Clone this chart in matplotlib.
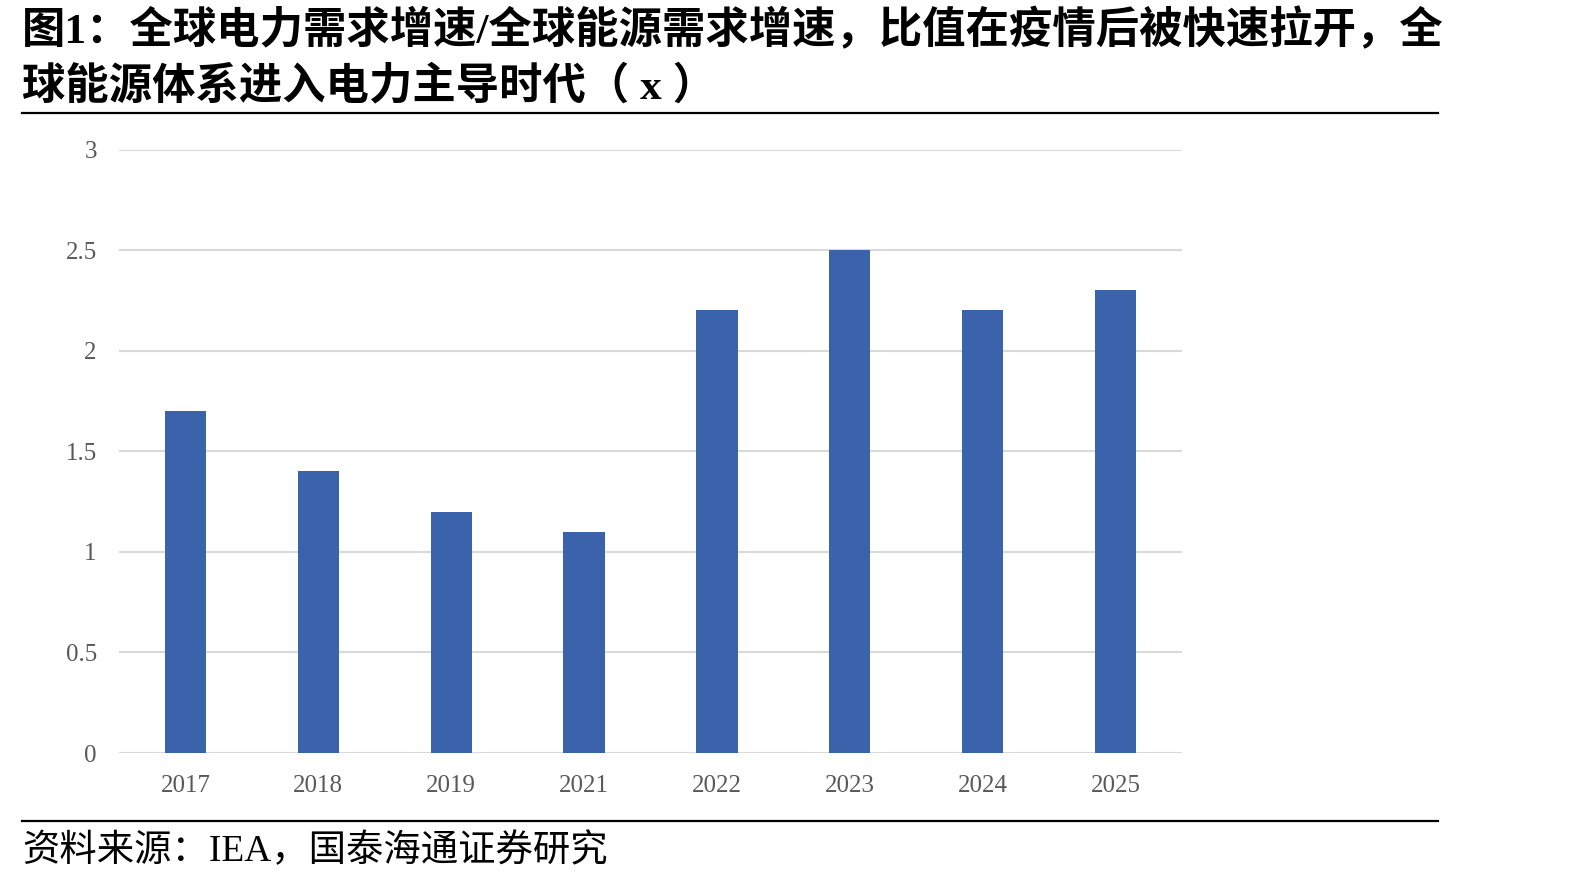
import matplotlib
matplotlib.use("Agg")
import matplotlib.pyplot as plt
from matplotlib.lines import Line2D

# data
years = ["2017", "2018", "2019", "2021", "2022", "2023", "2024", "2025"]
ratio = [1.7, 1.4, 1.2, 1.1, 2.2, 2.5, 2.2, 2.3]
yticks = [0, 0.5, 1, 1.5, 2, 2.5, 3]
ytick_labels = ["0", "0.5", "1", "1.5", "2", "2.5", "3"]

title_1 = "图1：全球电力需求增速/全球能源需求增速，比值在疫情后被快速拉开，全"
title_2 = "球能源体系进入电力主导时代（ x ）"
source = "资料来源：IEA，国泰海通证券研究"

fonts = ["Liberation Serif", "Noto Sans CJK SC"]
bar_color = "#3B63AC"
grid_color = "#D9D9D9"
label_color = "#595959"

fig = plt.figure(figsize=(15.94, 8.80), dpi=100)
ax = fig.add_axes([0.0747, 0.1443, 0.6668, 0.6858])

x = range(len(years))
ax.bar(x, ratio, width=0.31, color=bar_color, zorder=3)

ax.set_xlim(-0.5, len(years) - 0.5)
ax.set_ylim(0, 3)
ax.set_yticks(yticks)
ax.set_yticklabels(ytick_labels, family=fonts, fontsize=18, color=label_color)
ax.set_xticks(list(x))
ax.set_xticklabels(years, family=fonts, fontsize=18, color=label_color)
ax.tick_params(axis="y", length=0, pad=16)
ax.tick_params(axis="x", length=0, pad=16)
ax.yaxis.grid(True, color=grid_color, linewidth=1.5, zorder=0)
ax.set_axisbelow(True)
for s in ax.spines.values():
    s.set_visible(False)
ax.axhline(0, color=grid_color, linewidth=2, zorder=2)

# title, rules and source
fig.text(0.0138, 0.951, title_1, family=fonts, fontsize=31.2, fontweight="bold",
         va="baseline", ha="left")
fig.text(0.0138, 0.888, title_2, family=fonts, fontsize=31.2, fontweight="bold",
         va="baseline", ha="left")
fig.add_artist(Line2D([0.0138, 0.902], [0.8716, 0.8716], color="black", linewidth=1.6))
fig.add_artist(Line2D([0.0138, 0.902], [0.0665, 0.0665], color="black", linewidth=1.6))
fig.text(0.0138, 0.0216, source, family=fonts, fontsize=26.9, va="baseline", ha="left")

fig.savefig("out.png", dpi=100, facecolor="white")
